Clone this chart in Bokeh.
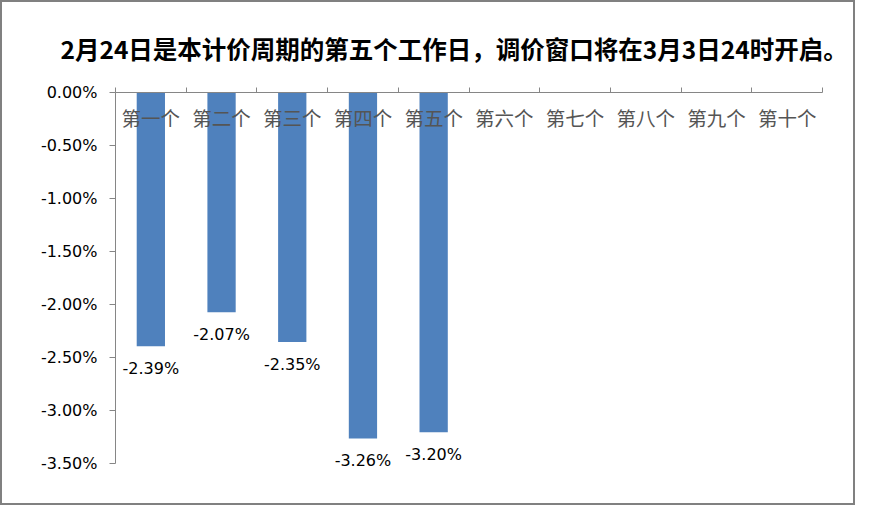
from bokeh.plotting import figure
from bokeh.models import (Range1d, FixedTicker, LinearAxis, ColumnDataSource,
                          LabelSet, Title, PrintfTickFormatter)
from bokeh.core.properties import value
from bokeh.embed import file_html
from bokeh.resources import INLINE

title_text = "2月24日是本计价周期的第五个工作日，调价窗口将在3月3日24时开启。"
categories = ["第一个", "第二个", "第三个", "第四个", "第五个",
              "第六个", "第七个", "第八个", "第九个", "第十个"]
values = [-2.39, -2.07, -2.35, -3.26, -3.20]
value_labels = ["-2.39%", "-2.07%", "-2.35%", "-3.26%", "-3.20%"]
y_ticks = [0.0, -0.5, -1.0, -1.5, -2.0, -2.5, -3.0, -3.5]

n = len(categories)
centers = [i + 0.5 for i in range(n)]
bounds = [float(i) for i in range(n + 1)]

p = figure(width=855, height=505, output_backend="svg", toolbar_location=None,
           x_range=Range1d(0, n), y_range=Range1d(-3.75, 0),
           x_axis_location=None, y_axis_location=None,
           min_border_left=113, min_border_right=35,
           min_border_top=90, min_border_bottom=17)
p.styles = {"border": "2px solid #808080", "box-sizing": "border-box"}
p.outline_line_color = None
p.grid.visible = False
p.background_fill_color = "white"
p.border_fill_color = "white"

# bars
src = ColumnDataSource(dict(x=centers[:len(values)], top=[0.0] * len(values),
                            bottom=values, lab=value_labels))
p.vbar(x="x", top="top", bottom="bottom", width=0.4, source=src,
       fill_color="#4F81BD", line_color=None)

labels = LabelSet(x="x", y="bottom", text="lab", source=src,
                  text_align="center", text_baseline="top", y_offset=-13,
                  text_font=value("DejaVu Sans"), text_font_size=value("16px"),
                  text_color="#000000")
p.add_layout(labels)

# y axis
yax = LinearAxis(ticker=FixedTicker(ticks=y_ticks),
                 formatter=PrintfTickFormatter(format="%.2f%%"),
                 bounds=(-3.5, 0))
yax.axis_line_color = "#868686"
yax.major_tick_line_color = "#868686"
yax.major_tick_out = 6
yax.major_tick_in = 0
yax.minor_tick_line_color = None
yax.major_label_standoff = 12
yax.major_label_text_font = "DejaVu Sans"
yax.major_label_text_font_size = "16px"
yax.major_label_text_color = "#000000"
p.add_layout(yax, "left")

# category axis at top (y = 0), labels inside the frame
xax = LinearAxis(ticker=FixedTicker(ticks=centers, minor_ticks=bounds),
                 major_label_overrides={c: lab for c, lab in zip(centers, categories)})
xax.axis_line_color = "#868686"
xax.major_tick_line_color = None
xax.major_tick_out = 0
xax.major_tick_in = 0
xax.minor_tick_line_color = "#868686"
xax.minor_tick_out = 5
xax.minor_tick_in = 0
xax.major_label_standoff = -44
xax.major_label_text_font = "Noto Sans CJK SC"
xax.major_label_text_font_size = "19.5px"
xax.major_label_text_color = "#555555"
p.add_layout(xax, "above")

t = Title(text=title_text, align="left", offset=-55, standoff=50,
          vertical_align="top",
          text_font="Noto Sans CJK SC", text_font_style="bold",
          text_font_size="24.5px", text_color="#000000")
p.add_layout(t, "above")

open("out.html", "w").write(file_html(p, INLINE))
